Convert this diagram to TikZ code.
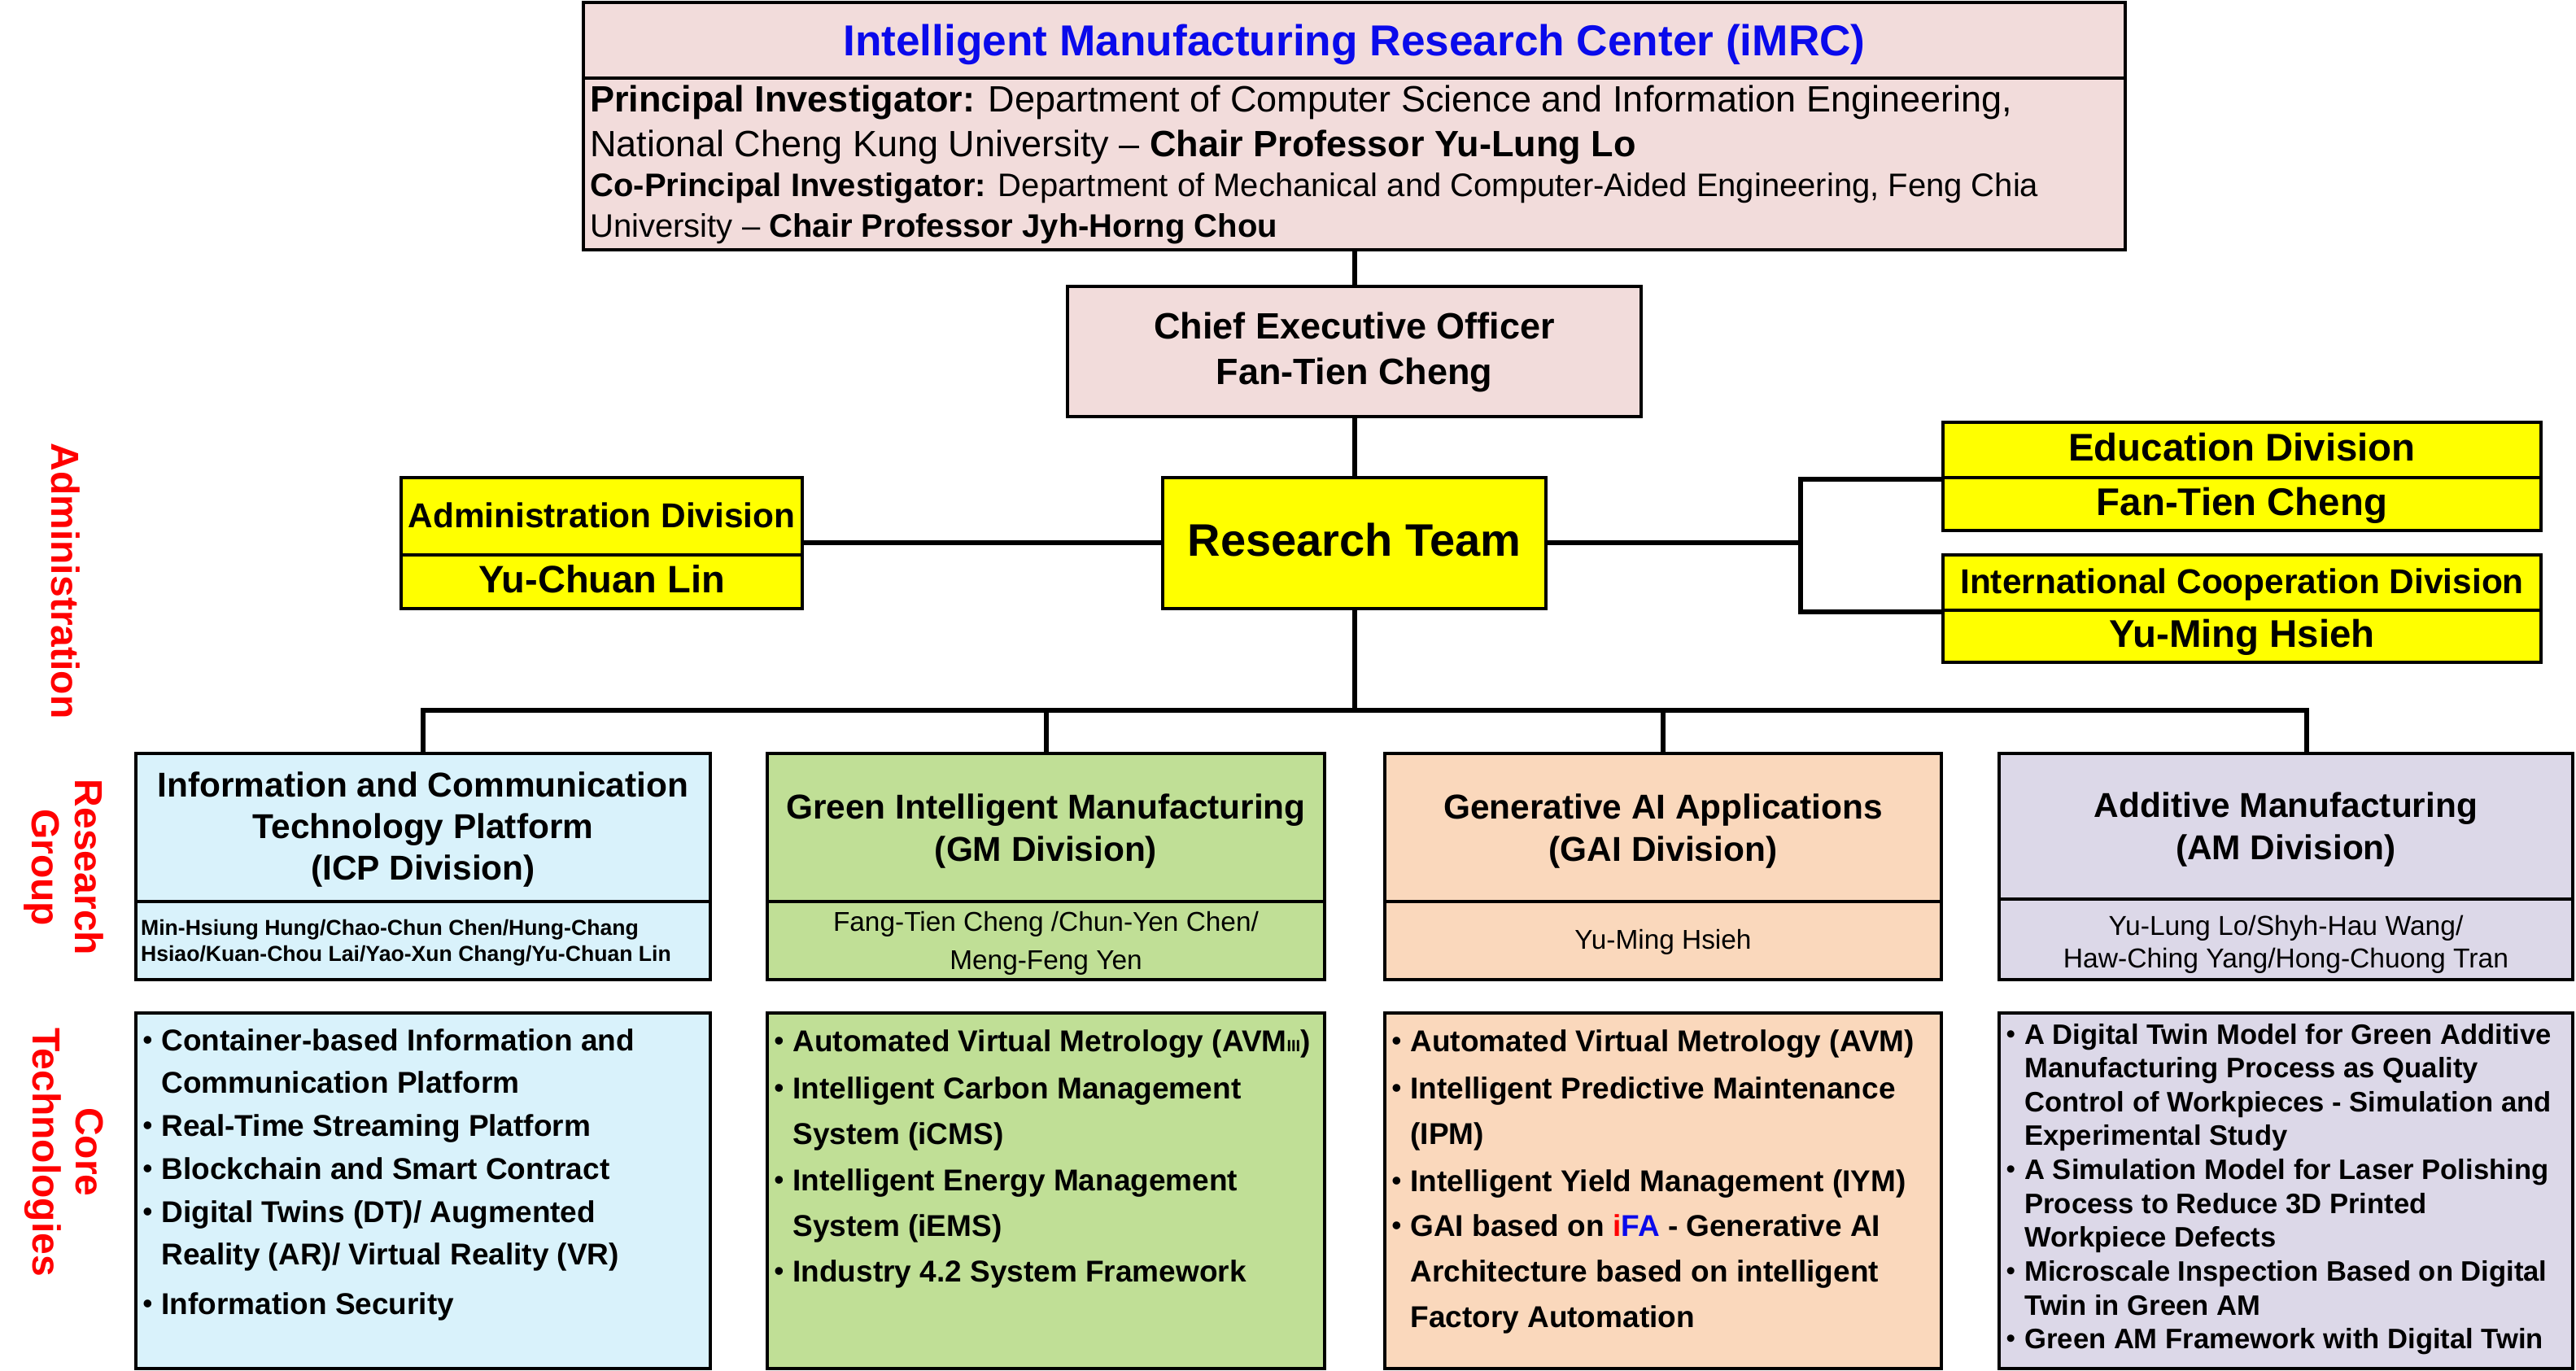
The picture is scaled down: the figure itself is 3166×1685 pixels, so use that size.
\documentclass[tikz,border=0pt]{standalone}
\usepackage{fontspec}
\setmainfont{Liberation Sans}
\usepackage{graphicx}
\usetikzlibrary{fit,calc}
\pgfdeclarelayer{bg}
\pgfsetlayers{bg,main}
\definecolor{pinkbox}{HTML}{F2DCDB}
\definecolor{yel}{HTML}{FFFF00}
\definecolor{icpc}{HTML}{D9F2FB}
\definecolor{gmc}{HTML}{C0DF96}
\definecolor{gaic}{HTML}{FAD8BC}
\definecolor{amc}{HTML}{DCD8E8}
\definecolor{ttlblue}{RGB}{10,10,235}
\definecolor{lblred}{HTML}{FF0000}
\newcommand\myfs[2]{\fontsize{#1}{#2}\selectfont}
\newcommand\MLc[1]{\begin{tabular}[t]{@{}c@{}}#1\end{tabular}}
\newcommand\MLl[1]{\begin{tabular}[t]{@{}l@{}}#1\end{tabular}}
\newcommand\bul{\raisebox{0.05em}{\scalebox{0.9}{\textbullet}}}
\newcommand\itm[1]{\hspace*{7pt}\makebox[0pt][c]{\bul}\hspace*{8.5pt}\MLl{#1}}
\tikzset{
  box/.style={draw=black, line width=2pt, inner sep=0pt, rectangle},
  conn/.style={draw=black, line width=3pt, line cap=rect, line join=miter},
  txt/.style={inner sep=0pt, anchor=base},
  itemtxt/.style={inner sep=0pt, anchor=base west},
  side/.style={inner sep=0pt, anchor=center, rotate=-90, text=lblred, font=\bfseries\myfs{24}{26.5}, align=center},
}
\begin{document}
\begin{tikzpicture}[x=0.5pt,y=-0.5pt]
\useasboundingbox (0,0) rectangle (3166,1685);

% ---------- top box ----------
\node[box, fill=pinkbox, fit={(717,3) (2612,96)}] (ttl) {};
\node[box, fill=pinkbox, fit={(717,96) (2612,307)}] (pi) {};
\node[txt, text=ttlblue, font=\bfseries\myfs{26.6}{30}] (ttltxt) at (1664.5,68.3) {Intelligent Manufacturing Research Center (iMRC)};
\node[itemtxt, font=\myfs{22.5}{26}] (pi1) at (725,138) {\textbf{Principal Investigator:} Department of Computer Science and Information Engineering,};
\node[itemtxt, font=\myfs{22.5}{26}] (pi2) at (725,193) {National Cheng Kung University – \textbf{Chair Professor Yu-Lung Lo}};
\node[itemtxt, font=\myfs{20}{24}] (pi3) at (725,242) {\textbf{Co-Principal Investigator:} Department of Mechanical and Computer-Aided Engineering, Feng Chia};
\node[itemtxt, font=\myfs{20}{24}] (pi4) at (725,292) {University – \textbf{Chair Professor Jyh-Horng Chou}};

% ---------- CEO ----------
\node[box, fill=pinkbox, fit={(1312,352) (2017,512)}] (ceo) {};
\node[txt, font=\bfseries\myfs{22.5}{28}] (ceotxt) at (1664.5,416.6) {\MLc{Chief Executive Officer\\Fan-Tien Cheng}};

% ---------- Research team ----------
\node[box, fill=yel, fit={(1429,587) (1900,747.6)}] (rt) {};
\node[txt, font=\bfseries\myfs{28}{32}] (rttxt) at (1664.5,683) {Research Team};

% ---------- Administration ----------
\node[box, fill=yel, fit={(493,587) (986,682)}] (admT) {};
\node[box, fill=yel, fit={(493,682) (986,748)}] (admN) {};
\node[txt, font=\bfseries\myfs{21.2}{25}] (admTt) at (739.5,648) {Administration Division};
\node[txt, font=\bfseries\myfs{23.5}{27}] (admNt) at (739.5,728) {Yu-Chuan Lin};

% ---------- Education / International ----------
\node[box, fill=yel, fit={(2388,519) (3123,587)}] (eduT) {};
\node[box, fill=yel, fit={(2388,587) (3123,652)}] (eduN) {};
\node[txt, font=\bfseries\myfs{23.7}{27}] (eduTt) at (2755.5,566.7) {Education Division};
\node[txt, font=\bfseries\myfs{23.7}{27}] (eduNt) at (2755.5,633) {Fan-Tien Cheng};
\node[box, fill=yel, fit={(2388,682) (3123,750)}] (icdT) {};
\node[box, fill=yel, fit={(2388,750) (3123,814)}] (icdN) {};
\node[txt, font=\bfseries\myfs{21.2}{25}] (icdTt) at (2755.5,729) {International Cooperation Division};
\node[txt, font=\bfseries\myfs{23.7}{27}] (icdNt) at (2755.5,795) {Yu-Ming Hsieh};

% ---------- side labels ----------
\node[side] (lbladm) at (81,714) {Administration};
\node[side] (lblrg) at (78.5,1066) {Research\\Group};
\node[side] (lblct) at (78.5,1416) {Core\\Technologies};

% ---------- ICP ----------
\node[box, fill=icpc, fit={(167,926) (873,1108)}] (icpT) {};
\node[box, fill=icpc, fit={(167,1108) (873,1204)}] (icpN) {};
\node[box, fill=icpc, fit={(167,1244.5) (873,1682)}] (icpC) {};
\node[txt, font=\bfseries\myfs{21.2}{25.5}] (icpTt) at (520,979) {\MLc{Information and Communication\\Technology Platform\\(ICP Division)}};
\node[itemtxt, font=\bfseries\myfs{13.3}{16}] (icpNt) at (172.7,1149) {\MLl{Min-Hsiung Hung/Chao-Chun Chen/Hung-Chang\\Hsiao/Kuan-Chou Lai/Yao-Xun Chang/Yu-Chuan Lin}};
\begin{scope}[every node/.style={itemtxt, font=\bfseries\myfs{18.5}{26.3}}]
\node (icp1) at (167,1291) {\itm{Container-based Information and\\Communication Platform}};
\node (icp2) at (167,1396) {\itm{Real-Time Streaming Platform}};
\node (icp3) at (167,1449) {\itm{Blockchain and Smart Contract}};
\node (icp4) at (167,1502) {\itm{Digital Twins (DT)/ Augmented\\Reality (AR)/ Virtual Reality (VR)}};
\node (icp5) at (167,1615.6) {\itm{Information Security}};
\end{scope}

% ---------- GM ----------
\node[box, fill=gmc, fit={(943,926) (1628,1108)}] (gmT) {};
\node[box, fill=gmc, fit={(943,1108) (1628,1204)}] (gmN) {};
\node[box, fill=gmc, fit={(943,1244.5) (1628,1682)}] (gmC) {};
\node[txt, font=\bfseries\myfs{21.2}{26}] (gmTt) at (1285.5,1006) {\MLc{Green Intelligent Manufacturing\\(GM Division)}};
\node[txt, font=\myfs{16.7}{23.5}] (gmNt) at (1285.5,1144) {\MLc{Fang-Tien Cheng /Chun-Yen Chen/\\Meng-Feng Yen}};
\begin{scope}[every node/.style={itemtxt, font=\bfseries\myfs{18.5}{28.3}}]
\node (gm1) at (943,1292) {\itm{Automated Virtual Metrology (AVM{\myfs{10}{10}III})}};
\node (gm2) at (943,1350) {\itm{Intelligent Carbon Management\\System (iCMS)}};
\node (gm3) at (943,1463) {\itm{Intelligent Energy Management\\System (iEMS)}};
\node (gm4) at (943,1575) {\itm{Industry 4.2 System Framework}};
\end{scope}

% ---------- GAI ----------
\node[box, fill=gaic, fit={(1702,926) (2386,1108)}] (gaiT) {};
\node[box, fill=gaic, fit={(1702,1108) (2386,1204)}] (gaiN) {};
\node[box, fill=gaic, fit={(1702,1244.5) (2386,1682)}] (gaiC) {};
\node[txt, font=\bfseries\myfs{21.2}{26}] (gaiTt) at (2044,1006) {\MLc{Generative AI Applications\\(GAI Division)}};
\node[txt, font=\myfs{16.7}{23.5}] (gaiNt) at (2044,1166) {Yu-Ming Hsieh};
\begin{scope}[every node/.style={itemtxt, font=\bfseries\myfs{18.5}{28.2}}]
\node (gai1) at (1702,1292) {\itm{Automated Virtual Metrology (AVM)}};
\node (gai2) at (1702,1350) {\itm{Intelligent Predictive Maintenance\\(IPM)}};
\node (gai3) at (1702,1464) {\itm{Intelligent Yield Management (IYM)}};
\node (gai4) at (1702,1519) {\itm{GAI based on \textcolor{red}{i}\textcolor{ttlblue}{FA} - Generative AI\\Architecture based on intelligent\\Factory Automation}};
\end{scope}

% ---------- AM ----------
\node[box, fill=amc, fit={(2457,926) (3162,1105)}] (amT) {};
\node[box, fill=amc, fit={(2457,1105) (3162,1204)}] (amN) {};
\node[box, fill=amc, fit={(2457,1244.5) (3162,1682)}] (amC) {};
\node[txt, font=\bfseries\myfs{21.2}{26}] (amTt) at (2809.5,1004) {\MLc{Additive Manufacturing\\(AM Division)}};
\node[txt, font=\myfs{16.8}{20.25}] (amNt) at (2809.5,1149) {\MLc{Yu-Lung Lo/Shyh-Hau Wang/\\Haw-Ching Yang/Hong-Chuong Tran}};
\begin{scope}[every node/.style={itemtxt, font=\bfseries\myfs{17.3}{20.8}}]
\node (am1) at (2457,1283) {\itm{A Digital Twin Model for Green Additive\\Manufacturing Process as Quality\\Control of Workpieces - Simulation and\\Experimental Study}};
\node (am2) at (2457,1449.5) {\itm{A Simulation Model for Laser Polishing\\Process to Reduce 3D Printed\\Workpiece Defects}};
\node (am3) at (2457,1574.5) {\itm{Microscale Inspection Based on Digital\\Twin in Green AM}};
\node (am4) at (2457,1657.5) {\itm{Green AM Framework with Digital Twin}};
\end{scope}

% ---------- connectors ----------
\coordinate (brx) at (2212.5,667);
\coordinate (bus) at (1664.5,873);
\coordinate (amdrop) at (2835,873);
\begin{pgfonlayer}{bg}
\fill[white] (0,0) rectangle (3166,1685);
\draw[conn] (pi.south) -- (ceo.north);
\draw[conn] (ceo.south) -- (rt.north);
\draw[conn] (rt.west) -- (rt.west -| admT.east);
\draw[conn] (rt.east) -- (rt.east -| brx);
\draw[conn] (eduT.south west) -- (eduT.south west -| brx) -- (icdT.south west -| brx) -- (icdT.south west);
\draw[conn] (rt.south) -- (bus);
\draw[conn] (icpT.north |- bus) -- (amdrop);
\draw[conn] (icpT.north |- bus) -- (icpT.north);
\draw[conn] (gmT.north |- bus) -- (gmT.north);
\draw[conn] (gaiT.north |- bus) -- (gaiT.north);
\draw[conn] (amdrop) -- (amdrop |- amT.north);
\end{pgfonlayer}
\end{tikzpicture}
\end{document}
